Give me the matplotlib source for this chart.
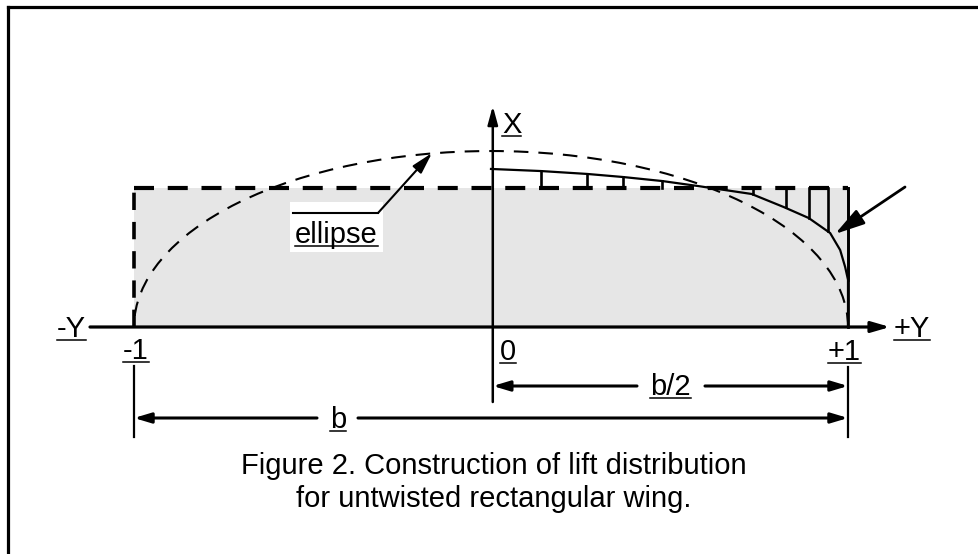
import matplotlib.pyplot as plt
from matplotlib.patches import Rectangle, Arc
from matplotlib.lines import Line2D

plt.rcParams['font.family'] = ['Liberation Sans', 'DejaVu Sans']

# spanwise station (fraction of semi-span) and local lift, rectangle = 1
span_pos = [0.0, 0.14, 0.27, 0.37, 0.48, 0.58, 0.73, 0.82, 0.89, 0.95, 0.978, 0.992, 1.0, 1.0]
lift_curve = [1.137, 1.122, 1.101, 1.079, 1.050, 1.014, 0.957, 0.863, 0.784, 0.676, 0.554, 0.432, 0.34, 0.0]
hatch_pos = [0.14, 0.27, 0.37, 0.48, 0.735, 0.825, 0.89, 0.945, 1.0]
hatch_lift = [1.122, 1.101, 1.079, 1.050, 0.955, 0.86, 0.784, 0.69, 0.34]
rect_lift = 1.0
ellipse_peak = 1.266
caption = ["Figure 2. Construction of lift distribution", "for untwisted rectangular wing."]

# pixel -> data helpers (layout only)
U0, SU, V0, SV = 491.0, 357.0, 327.0, 139.0
def du(px):
    return (px - U0) / SU
def dv(py):
    return (V0 - py) / SV

fig = plt.figure(figsize=(9.79, 5.54), dpi=100)
ax = fig.add_axes([0, 0, 1, 1])
ax.set_xlim(du(0), du(979))
ax.set_ylim(dv(554), dv(0))
ax.axis('off')

# frame (only left and top edges show)
fig.add_artist(Line2D([8 / 979, 8 / 979], [0, 1 - 7 / 554], color='black', lw=2.3, transform=fig.transFigure))
fig.add_artist(Line2D([8 / 979, 1], [1 - 7 / 554, 1 - 7 / 554], color='black', lw=2.3, transform=fig.transFigure))

# rectangular (constant) lift
ax.add_patch(Rectangle((-1, 0), 2, rect_lift, facecolor='#e6e6e6', edgecolor='none', zorder=1))
dash_rect = (0, (4.8, 3.3))
ax.plot([-1, 1], [rect_lift, rect_lift], color='black', lw=3.0, ls=dash_rect, zorder=3)
ax.plot([-1, -1], [0, rect_lift], color='black', lw=2.6, ls=dash_rect, zorder=3)
ax.plot([1, 1], [0, rect_lift], color='black', lw=2.0, zorder=3)

# elliptic lift
ax.add_patch(Arc((0, 0), 2, 2 * ellipse_peak, theta1=0, theta2=180, color='black',
                 lw=1.5, ls=(0, (7.0, 4.8)), zorder=3))

# white box behind the "ellipse" label
ax.add_patch(Rectangle((du(290), dv(252)), du(383) - du(290), dv(202) - dv(252),
                       facecolor='white', edgecolor='none', zorder=2))

# averaged lift curve and hatching
ax.plot(span_pos, lift_curve, color='black', lw=1.6, zorder=4)
for yp, lp in zip(hatch_pos, hatch_lift):
    ax.plot([yp, yp], [rect_lift, lp], color='black', lw=1.9, zorder=4)

# axes
ax.annotate('', xy=(du(890), 0), xytext=(du(90), 0),
            arrowprops=dict(arrowstyle='-|>,head_length=1.1,head_width=0.32', mutation_scale=10,
                            color='black', lw=2.3, shrinkA=0, shrinkB=0), zorder=5)
ax.annotate('', xy=(0.005, dv(106)), xytext=(0.005, dv(402)),
            arrowprops=dict(arrowstyle='-|>,head_length=1.1,head_width=0.3', mutation_scale=10,
                            color='black', lw=1.8, shrinkA=0, shrinkB=0), zorder=5)

# extension lines
ax.plot([-1, -1], [dv(366), dv(437)], color='black', lw=1.6)
ax.plot([1, 1], [dv(367), dv(437)], color='black', lw=1.6)

def dim_arrow(x0, x1, y):
    ax.annotate('', xy=(x1, y), xytext=(x0, y),
                arrowprops=dict(arrowstyle='-|>,head_length=1.0,head_width=0.3', mutation_scale=10,
                                color='black', lw=2.2, shrinkA=0, shrinkB=0))

# b/2 and b dimensions
dim_arrow(du(637), 0.005, dv(386))
dim_arrow(du(705), 1, dv(386))
dim_arrow(du(317), -1, dv(418))
dim_arrow(du(358), 1, dv(418))

# leaders
ax.plot([du(293), du(378)], [dv(213), dv(213)], color='black', lw=1.5, zorder=5)
ax.annotate('', xy=(du(432), dv(153)), xytext=(du(378), dv(213)),
            arrowprops=dict(arrowstyle='-|>,head_length=1.3,head_width=0.35', mutation_scale=10,
                            color='black', lw=1.5, shrinkA=0, shrinkB=0), zorder=5)
ax.annotate('', xy=(du(835), dv(234)), xytext=(du(905), dv(187)),
            arrowprops=dict(arrowstyle='-|>,head_length=1.8,head_width=0.5', mutation_scale=10,
                            color='black', lw=2.0, shrinkA=0, shrinkB=0), zorder=5)

# underlined labels
labels = [('X', 502, 133), ('-Y', 57, 337), ('+Y', 894, 337), ('-1', 123, 359),
          ('0', 500, 360), ('+1', 828, 360), ('b/2', 650, 395), ('b', 330, 428),
          ('ellipse', 295, 243)]
texts = []
for s, px, py in labels:
    t = ax.text(du(px), dv(py), s, fontsize=21, ha='left', va='baseline', zorder=6)
    texts.append((t, py))

fig.canvas.draw()
inv = ax.transData.inverted()
for t, py in texts:
    bb = t.get_window_extent()
    x0 = inv.transform((bb.x0, 0))[0]
    x1 = inv.transform((bb.x1, 0))[0]
    ax.plot([x0, x1], [dv(py + 3), dv(py + 3)], color='black', lw=1.1, zorder=6)

for i, line in enumerate(caption):
    ax.text(du(494), dv(466 + 33 * i), line, fontsize=21, ha='center', va='center')

fig.savefig('out.png', dpi=100)
